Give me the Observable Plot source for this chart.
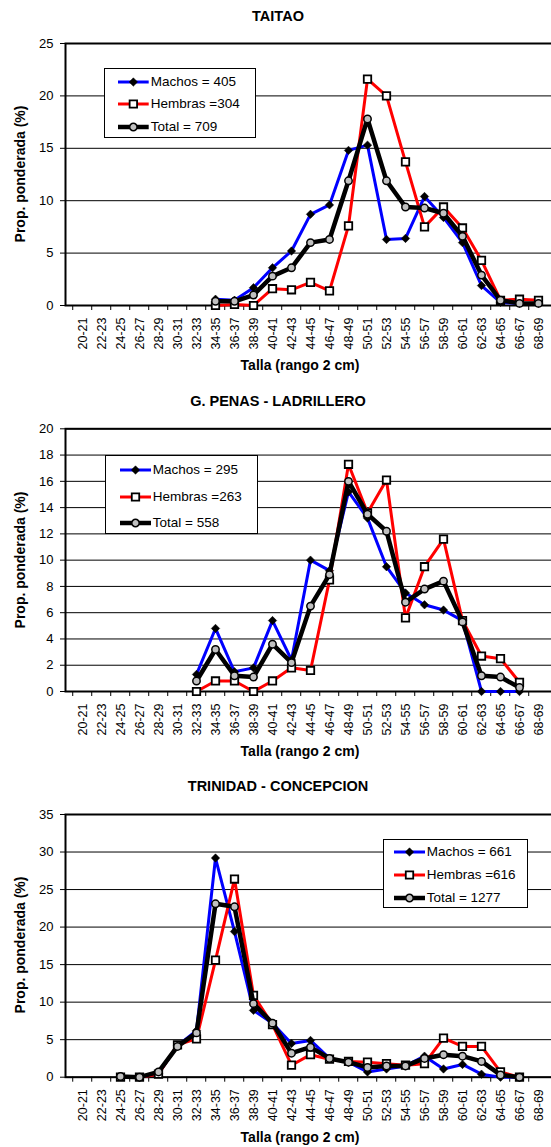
<!DOCTYPE html>
<html><head><meta charset="utf-8">
<script src="https://cdn.jsdelivr.net/npm/d3@7"></script>
<script src="https://cdn.jsdelivr.net/npm/@observablehq/plot@0.6"></script>
<style>
body{margin:0;background:#fff;overflow:hidden;font-family:"Liberation Sans",Arial,sans-serif;}
#page{position:relative;width:551px;height:1147px;overflow:hidden;background:#fff;}
.panel{position:absolute;left:0;width:551px;}
.panel svg{display:block;}
.t{position:absolute;transform:translate(-50%,-50%);white-space:nowrap;font-weight:bold;color:#000;line-height:1;}
.yt{position:absolute;transform:translate(-50%,-50%) rotate(-90deg);white-space:nowrap;font-weight:bold;color:#000;line-height:1;font-size:14px;}
.legend{position:absolute;border:1.5px solid #000;background:#fff;box-sizing:border-box;}
.ltxt{position:absolute;transform:translateY(-50%);white-space:nowrap;font-size:13.5px;line-height:1;color:#000;}
</style></head><body><div id="page"></div>
<script>
// ---------- data ----------
const cats = ["20-21","22-23","24-25","26-27","28-29","30-31","32-33","34-35","36-37","38-39","40-41","42-43","44-45","46-47","48-49","50-51","52-53","54-55","56-57","58-59","60-61","62-63","64-65","66-67","68-69"];

const titles = ["TAITAO", "G. PENAS - LADRILLERO", "TRINIDAD - CONCEPCION"];
const xTitle = "Talla (rango 2 cm)";
const yTitle = "Prop. ponderada (%)";

const yTicks1 = [0, 5, 10, 15, 20, 25];
const yTicks2 = [0, 2, 4, 6, 8, 10, 12, 14, 16, 18, 20];
const yTicks3 = [0, 5, 10, 15, 20, 25, 30, 35];

const legend1 = ["Machos = 405", "Hembras =304", "Total = 709"];
const legend2 = ["Machos = 295", "Hembras =263", "Total = 558"];
const legend3 = ["Machos = 661", "Hembras =616", "Total = 1277"];

const _ = null;
// TAITAO
const machos1  = [_,_,_,_,_,_,_, 0.6, 0.5, 1.7, 3.6, 5.2, 8.7, 9.6, 14.8, 15.3, 6.3, 6.4, 10.4, 8.4, 6.0, 1.9, 0.3, 0.2, 0.2];
const hembras1 = [_,_,_,_,_,_,_, 0.0, 0.1, 0.0, 1.6, 1.5, 2.2, 1.4, 7.6, 21.6, 20.0, 13.7, 7.5, 9.4, 7.4, 4.3, 0.5, 0.6, 0.5];
const total1   = [_,_,_,_,_,_,_, 0.4, 0.4, 1.0, 2.8, 3.6, 6.0, 6.3, 11.9, 17.8, 11.9, 9.4, 9.3, 8.8, 6.6, 2.9, 0.5, 0.2, 0.2];
// G. PENAS - LADRILLERO
const machos2  = [_,_,_,_,_,_, 1.3, 4.8, 1.5, 1.8, 5.4, 2.4, 10.0, 9.2, 15.2, 13.2, 9.5, 7.5, 6.6, 6.2, 5.4, 0.0, 0.0, 0.0, _];
const hembras2 = [_,_,_,_,_,_, 0.0, 0.8, 0.8, 0.0, 0.8, 1.8, 1.6, 8.5, 17.3, 13.6, 16.1, 5.6, 9.5, 11.6, 5.4, 2.7, 2.5, 0.7, _];
const total2   = [_,_,_,_,_,_, 0.8, 3.2, 1.2, 1.1, 3.6, 2.2, 6.5, 8.9, 16.0, 13.5, 12.2, 6.8, 7.8, 8.4, 5.3, 1.2, 1.1, 0.3, _];
// TRINIDAD - CONCEPCION
const machos3  = [_,_, 0.1, 0.0, 0.5, 4.2, 6.2, 29.2, 19.4, 8.9, 7.2, 4.5, 4.9, 2.5, 2.0, 0.7, 1.1, 1.5, 2.8, 1.1, 1.7, 0.4, 0.0, 0.0, _];
const hembras3 = [_,_, 0.0, 0.0, 0.4, 4.3, 5.1, 15.6, 26.4, 10.9, 7.0, 1.6, 3.0, 2.4, 2.1, 2.0, 1.8, 1.6, 1.8, 5.2, 4.1, 4.1, 0.7, 0.0, _];
const total3   = [_,_, 0.1, 0.0, 0.7, 4.1, 5.9, 23.1, 22.7, 9.8, 7.2, 3.2, 4.0, 2.5, 2.0, 1.3, 1.5, 1.5, 2.5, 3.0, 2.8, 2.1, 0.3, 0.0, _];

// ---------- layout ----------
const FONT = '"Liberation Sans", Arial, sans-serif';
const X0 = 65, X1 = 554;
const layout = [
  {top: 0,   height: 385, mt: 43,   mb: 80,   titleY: 15.5,
   lg: {left: 104.3, top: 68.3, w: 151.4, h: 69.4, row0: 12.4, gap: 22.7, l0: 13, l1: 43.7, tx: 45.5}},
  {top: 385, height: 385, mt: 43.3, mb: 79,   titleY: 401,
   lg: {left: 105.3, top: 455, w: 152.7, h: 79.3, row0: 14.3, gap: 26.5, l0: 14, l1: 45, tx: 46.5}},
  {top: 770, height: 377, mt: 44,   mb: 70.3, titleY: 786,
   lg: {left: 382.7, top: 839, w: 145, h: 69.3, row0: 12, gap: 23.2, l0: 10.3, l1: 41.3, tx: 43}}
];
const panels = [
  {title: titles[0], yTicks: yTicks1, series: [machos1, hembras1, total1], names: legend1},
  {title: titles[1], yTicks: yTicks2, series: [machos2, hembras2, total2], names: legend2},
  {title: titles[2], yTicks: yTicks3, series: [machos3, hembras3, total3], names: legend3}
];

const styles = [
  {stroke: "#0000ff", sw: 3,   symbol: "diamond2", r: 3.8, fill: "#000", dstroke: "#000", dsw: 0.5, d3sym: d3.symbolDiamond2},
  {stroke: "#ff0000", sw: 3,   symbol: "square",   r: 4.2, fill: "#fff", dstroke: "#000", dsw: 1.8, d3sym: d3.symbolSquare},
  {stroke: "#000000", sw: 4.5, symbol: "circle",   r: 3.7, fill: "#c0c0c0", dstroke: "#000", dsw: 1.5, d3sym: d3.symbolCircle}
];

const page = document.getElementById("page");
const step = (X1 - X0) / cats.length;

function addText(cls, text, x, y, size) {
  const d = document.createElement("div");
  d.className = cls; d.textContent = text;
  d.style.left = x + "px"; d.style.top = y + "px";
  if (size) d.style.fontSize = size + "px";
  page.appendChild(d);
}

panels.forEach((p, k) => {
  const L = layout[k];
  const ymax = p.yTicks[p.yTicks.length - 1];
  const marks = [
    Plot.gridY(p.yTicks, {stroke: "#000", strokeOpacity: 1, strokeWidth: 1}),
    Plot.frame({stroke: "#000", strokeWidth: 2}),
    Plot.axisY(p.yTicks, {tickSize: 5, tickPadding: 7, fontSize: 13, label: null, fontFamily: FONT}),
    Plot.axisX({tickSize: 0, tickPadding: 12, tickRotate: -90, fontSize: 12.5, label: null, fontFamily: FONT}),
    Plot.axisX({tickSize: 5, tickFormat: () => "", dx: -step / 2, label: null})
  ];
  p.series.forEach((vals, s) => {
    const st = styles[s];
    const rows = cats.map((c, i) => ({cat: c, v: vals[i]})).filter(d => d.v != null);
    marks.push(Plot.line(rows, {x: "cat", y: "v", stroke: st.stroke, strokeWidth: st.sw, strokeLinejoin: "round", strokeLinecap: "round"}));
    marks.push(Plot.dot(rows, {x: "cat", y: "v", symbol: st.symbol, r: st.r, fill: st.fill, stroke: st.dstroke, strokeWidth: st.dsw}));
  });
  const chart = Plot.plot({
    width: 551, height: L.height,
    marginLeft: X0, marginRight: 551 - X1, marginTop: L.mt, marginBottom: L.mb,
    style: {fontFamily: FONT, background: "transparent", color: "#000"},
    x: {type: "point", domain: cats, padding: 0.5, align: 0.5, range: [X0, X1]},
    y: {domain: [0, ymax]},
    marks
  });
  const wrap = document.createElement("div");
  wrap.className = "panel";
  wrap.style.top = L.top + "px";
  wrap.appendChild(chart);
  page.appendChild(wrap);

  const plotTop = L.top + L.mt, plotBottom = L.top + L.height - L.mb;
  addText("t", p.title, 278, L.titleY, 14.5);
  addText("t", xTitle, 300, plotBottom + 60, 14);
  addText("yt", yTitle, 20, (plotTop + plotBottom) / 2);

  // legend
  const g = L.lg;
  const box = document.createElement("div");
  box.className = "legend";
  Object.assign(box.style, {left: g.left + "px", top: g.top + "px", width: g.w + "px", height: g.h + "px"});
  p.names.forEach((name, s) => {
    const st = styles[s];
    const y = g.row0 + s * g.gap;
    const sw = d3.create("svg").attr("width", g.l1 - g.l0 + 4).attr("height", 14)
      .style("position", "absolute").style("left", (g.l0 - 2) + "px").style("top", (y - 7) + "px").style("overflow", "visible");
    sw.append("line").attr("x1", 2).attr("x2", g.l1 - g.l0 + 2).attr("y1", 7).attr("y2", 7)
      .attr("stroke", st.stroke).attr("stroke-width", st.sw);
    sw.append("path").attr("transform", `translate(${(g.l1 - g.l0) / 2 + 2},7)`)
      .attr("d", d3.symbol(st.d3sym, Math.PI * st.r * st.r)())
      .attr("fill", st.fill).attr("stroke", st.dstroke).attr("stroke-width", st.dsw);
    box.appendChild(sw.node());
    const t = document.createElement("div");
    t.className = "ltxt"; t.textContent = name;
    t.style.left = g.tx + "px"; t.style.top = y + "px";
    box.appendChild(t);
  });
  page.appendChild(box);
});
</script></body></html>
